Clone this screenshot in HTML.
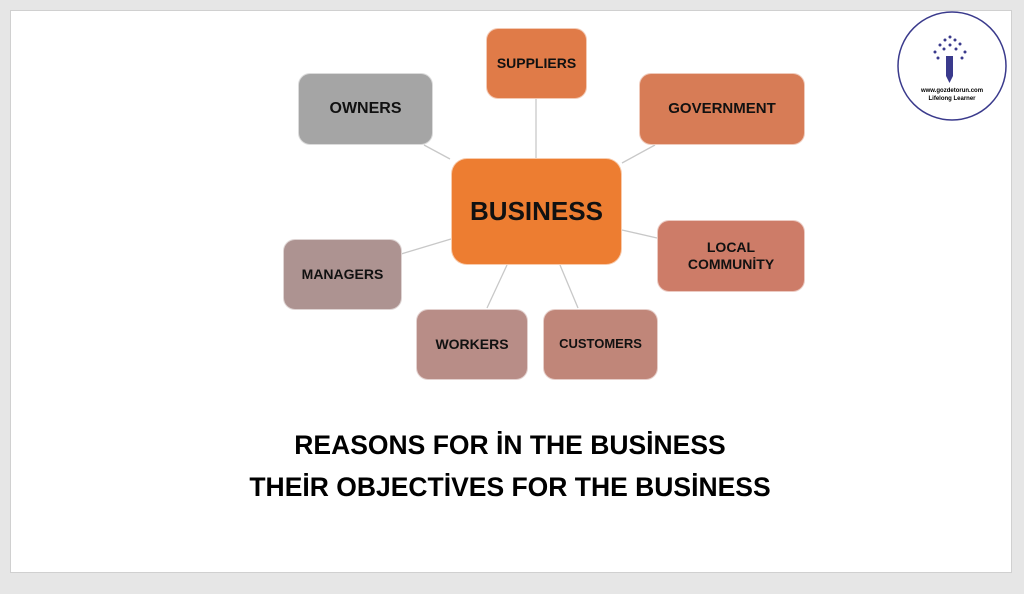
<!DOCTYPE html>
<html><head><meta charset="utf-8"><style>
body{margin:0;width:1024px;height:594px;background:#e6e6e6;position:relative;overflow:hidden;font-family:"Liberation Sans",sans-serif}
.slide{position:absolute;left:10px;top:10px;width:1002px;height:563px;background:#fff;border:1px solid #d0d0d0;box-sizing:border-box}
.b{position:absolute;border-radius:12px;display:flex;align-items:center;justify-content:center;text-align:center;font-weight:bold;color:#111;box-sizing:border-box;border:1px solid rgba(255,255,255,.6);line-height:1.25}
.t{position:absolute;left:0;width:1024px;text-align:center;font-weight:bold;font-size:26.5px;color:#000}
</style></head><body>
<div class="slide"></div>
<svg style="position:absolute;left:0;top:0" width="1024" height="594">
<g stroke="#c8c8c8" stroke-width="1.3">
<line x1="536" y1="98" x2="536" y2="158"/>
<line x1="424" y1="145" x2="450" y2="159"/>
<line x1="622" y1="163" x2="655" y2="145"/>
<line x1="622" y1="230" x2="657" y2="238"/>
<line x1="401" y1="254" x2="451" y2="239"/>
<line x1="507" y1="265" x2="487" y2="308"/>
<line x1="560" y1="265" x2="578" y2="308"/>
</g>
<circle cx="952" cy="66" r="54" fill="#fff" stroke="#3a3a8c" stroke-width="1.5"/>
<g fill="#3a3a8c">
<rect x="946" y="56" width="7" height="20"/>
<polygon points="946,76 953,76 949.5,83"/>
<circle cx="940" cy="45" r="1.5"/><circle cx="945" cy="40" r="1.5"/><circle cx="950" cy="37" r="1.5"/><circle cx="955" cy="40" r="1.5"/><circle cx="960" cy="44" r="1.5"/>
<circle cx="935" cy="52" r="1.5"/><circle cx="965" cy="52" r="1.5"/><circle cx="938" cy="58" r="1.5"/><circle cx="962" cy="58" r="1.5"/><circle cx="944" cy="49" r="1.5"/><circle cx="956" cy="49" r="1.5"/><circle cx="950" cy="45" r="1.5"/>
</g>
<text x="952" y="92" font-size="6" font-weight="bold" text-anchor="middle" font-family="Liberation Sans">www.gozdetorun.com</text>
<text x="952" y="100" font-size="6" font-weight="bold" text-anchor="middle" font-family="Liberation Sans">Lifelong Learner</text>
</svg>
<div class="b" style="left:486px;top:28px;width:101px;height:71px;background:#e07b48;font-size:14px">SUPPLIERS</div>
<div class="b" style="left:298px;top:73px;width:135px;height:72px;background:#a5a5a5;font-size:16px">OWNERS</div>
<div class="b" style="left:639px;top:73px;width:166px;height:72px;background:#d77c56;font-size:15px">GOVERNMENT</div>
<div class="b" style="left:451px;top:158px;width:171px;height:107px;background:#ed7d31;font-size:26px;border-radius:16px">BUSINESS</div>
<div class="b" style="left:657px;top:220px;width:148px;height:72px;background:#cd7c68;font-size:14px">LOCAL<br>COMMUNİTY</div>
<div class="b" style="left:283px;top:239px;width:119px;height:71px;background:#ad9391;font-size:14px">MANAGERS</div>
<div class="b" style="left:416px;top:309px;width:112px;height:71px;background:#b88d87;font-size:14px">WORKERS</div>
<div class="b" style="left:543px;top:309px;width:115px;height:71px;background:#c08679;font-size:13px">CUSTOMERS</div>
<div class="t" style="top:430px;left:-2px">REASONS FOR İN THE BUSİNESS</div>
<div class="t" style="top:472px;left:-2px">THEİR OBJECTİVES FOR THE BUSİNESS</div>
</body></html>
